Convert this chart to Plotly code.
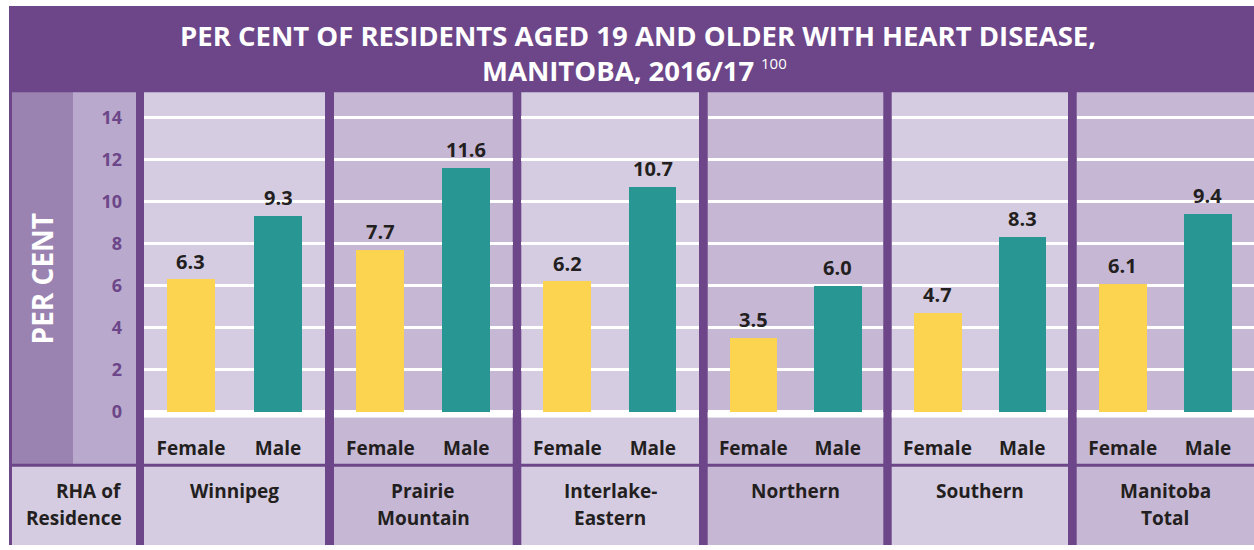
import plotly.graph_objects as go
from plotly.subplots import make_subplots

# ---------------- data ----------------
regions = ["Winnipeg", "Prairie<br>Mountain", "Interlake-<br>Eastern", "Northern", "Southern", "Manitoba<br>Total"]
sexes = ["Female", "Male"]
female = [6.3, 7.7, 6.2, 3.5, 4.7, 6.1]
male = [9.3, 11.6, 10.7, 6.0, 8.3, 9.4]
y_ticks = [0, 2, 4, 6, 8, 10, 12, 14]

# ---------------- style ----------------
W, H = 1254, 550
PURPLE = "#6c4689"
DARK_COL = "#9b83b1"
TICK_COL = "#b9a9cc"
PANEL_LIGHT = "#d5cce1"
PANEL_DARK = "#c6b8d4"
YELLOW = "#fdd44f"
TEAL = "#289693"
TEXT = "#231f20"
FONT = "Open Sans"

panel_left = [144, 334, 521.3, 707.7, 891.7, 1076.7]
panel_right = [325, 512.7, 699, 883.3, 1068, 1254]
plot_top, plot_bottom = 93, 421.7
zero_px = 415.7
px_per_unit = 21.21


def fx(x):
    return x / W


def fy(y):
    return 1 - y / H


ymin = -(plot_bottom - zero_px) / px_per_unit
ymax = (zero_px - plot_top) / px_per_unit

fig = make_subplots(rows=1, cols=6, shared_yaxes=True, horizontal_spacing=0.01)

for i in range(6):
    fig.add_trace(go.Bar(x=sexes, y=[female[i], male[i]],
                         marker=dict(color=[YELLOW, TEAL], line=dict(width=0)),
                         width=0.56, showlegend=False, hoverinfo="skip"),
                  row=1, col=i + 1)

shapes = []
# outer frame
shapes.append(dict(type="rect", xref="paper", yref="paper", x0=fx(9), x1=fx(W), y0=fy(H), y1=fy(6),
                   fillcolor=PURPLE, line_width=0, layer="below"))
shapes.append(dict(type="rect", xref="paper", yref="paper", x0=fx(12), x1=fx(73), y0=fy(468), y1=fy(plot_top),
                   fillcolor=DARK_COL, line_width=0, layer="below"))
shapes.append(dict(type="rect", xref="paper", yref="paper", x0=fx(73), x1=fx(136), y0=fy(468), y1=fy(plot_top),
                   fillcolor=TICK_COL, line_width=0, layer="below"))
shapes.append(dict(type="rect", xref="paper", yref="paper", x0=fx(12), x1=fx(136), y0=fy(H), y1=fy(471),
                   fillcolor=PANEL_LIGHT, line_width=0, layer="below"))

annotations = []
for i in range(6):
    col = PANEL_LIGHT if i % 2 == 0 else PANEL_DARK
    l, r = panel_left[i], panel_right[i]
    shapes.append(dict(type="rect", xref="paper", yref="paper", x0=fx(l), x1=fx(r), y0=fy(468), y1=fy(plot_top),
                       fillcolor=col, line_width=0, layer="below"))
    shapes.append(dict(type="rect", xref="paper", yref="paper", x0=fx(l), x1=fx(r), y0=fy(H), y1=fy(471),
                       fillcolor=col, line_width=0, layer="below"))
    xa = "x" if i == 0 else f"x{i + 1}"
    ya = "y" if i == 0 else f"y{i + 1}"
    # baseline band
    shapes.append(dict(type="rect", xref=f"{xa} domain", yref=ya, x0=0, x1=1, y0=ymin, y1=0,
                       fillcolor="white", line_width=0, layer="below"))
    # axes
    fig.update_xaxes(domain=[fx(l), fx(r)], range=[-0.54, 1.54], showgrid=False, zeroline=False,
                     showline=False, ticks="", tickfont=dict(family=FONT, size=19, color=TEXT, weight=700),
                     ticklabelstandoff=17, row=1, col=i + 1)
    fig.update_yaxes(domain=[fy(plot_bottom), fy(plot_top)], range=[ymin, ymax], tickvals=y_ticks,
                     showgrid=True, gridcolor="white", gridwidth=2.5, zeroline=False, showline=False,
                     ticks="", row=1, col=i + 1)
    # value labels
    for s, v in zip(sexes, [female[i], male[i]]):
        annotations.append(dict(x=s, y=v, xref=xa, yref=ya, text=f"{v:.1f}", showarrow=False,
                                xanchor="center", yanchor="bottom", yshift=3,
                                font=dict(family=FONT, size=20, color=TEXT, weight=700)))
    # region labels
    for k, line in enumerate(regions[i].split("<br>")):
        annotations.append(dict(x=0.5, xref=f"{xa} domain", yref="paper", y=fy(495 + 28 * k),
                                text=line, showarrow=False, xanchor="center", yanchor="middle",
                                font=dict(family=FONT, size=19, color=TEXT, weight=700)))

fig.update_yaxes(tickfont=dict(family=FONT, size=18, color=PURPLE, weight=700), ticklabelstandoff=21,
                 row=1, col=1)

# title
annotations.append(dict(x=fx(638), y=fy(36), xref="paper", yref="paper", showarrow=False,
                        xanchor="center", yanchor="middle",
                        text="PER CENT OF RESIDENTS AGED 19 AND OLDER WITH HEART DISEASE,",
                        font=dict(family=FONT, size=27.5, color="white", weight=700)))
annotations.append(dict(x=fx(756), y=fy(71), xref="paper", yref="paper", showarrow=False,
                        xanchor="right", yanchor="middle",
                        text="MANITOBA, 2016/17",
                        font=dict(family=FONT, size=27.5, color="white", weight=400 + 300)))
annotations.append(dict(x=fx(759), y=fy(64), xref="paper", yref="paper", showarrow=False,
                        xanchor="left", yanchor="middle",
                        text="100",
                        font=dict(family=FONT, size=15, color="white", weight=400)))
# y title
annotations.append(dict(x=fx(42), y=fy(281), xref="paper", yref="paper", showarrow=False, textangle=-90,
                        xanchor="center", yanchor="middle",
                        text="PER CENT", font=dict(family=FONT, size=28, color="white", weight=700)))
# RHA of Residence
annotations.append(dict(x=fx(124), y=fy(495), xref="paper", yref="paper", showarrow=False,
                        xanchor="right", yanchor="middle",
                        text="RHA of", font=dict(family=FONT, size=19, color=TEXT, weight=700)))
annotations.append(dict(x=fx(124), y=fy(523), xref="paper", yref="paper", showarrow=False,
                        xanchor="right", yanchor="middle",
                        text="Residence", font=dict(family=FONT, size=19, color=TEXT, weight=700)))

fig.update_layout(width=W, height=H, margin=dict(l=0, r=0, t=0, b=0),
                  paper_bgcolor="white", plot_bgcolor="rgba(0,0,0,0)",
                  shapes=shapes, annotations=annotations, bargap=0, showlegend=False)

fig.write_html("out.html", config={"displayModeBar": False},
               post_script="document.body.style.margin='0px';")
